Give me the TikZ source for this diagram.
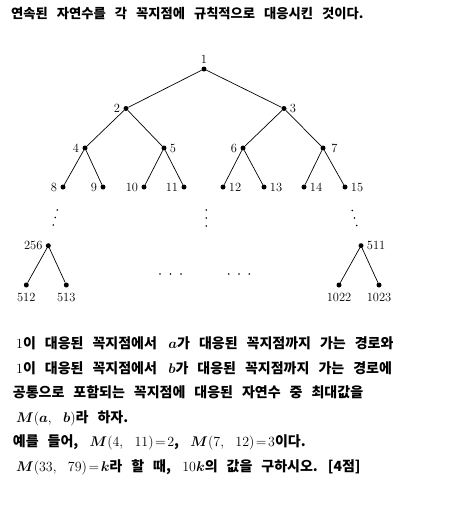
\RequirePackage{fix-cm}
\documentclass[tikz,border=0pt]{standalone}
\usepackage{fontspec}
\usepackage{bm}
\newfontfamily\krfont{Noto Sans CJK KR}
\usetikzlibrary{positioning}

\begin{document}
\begin{tikzpicture}[x=1pt,y=-1pt,on grid,
	dot/.style={circle,fill,inner sep=0pt,minimum size=5pt},
	every label/.style={font=\fontsize{12.5}{14}\selectfont,inner sep=1.5pt},
	label distance=1.5pt,
	ttl/.style={anchor=base west,inner sep=0pt,font={\krfont\bfseries\fontsize{13.3}{16}\selectfont\spaceskip=9pt}},
	txt/.style={anchor=base west,inner sep=0pt,font={\krfont\bfseries\fontsize{14}{16}\selectfont\spaceskip=9pt}},
	every edge/.style={draw,line width=0.7pt}]
	\useasboundingbox (0,0) rectangle (468,520);
	\node[ttl] (title) at (11,18.5) {연속된 자연수를 각 꼭지점에 규칙적으로 대응시킨 것이다.};
	\node[dot,label=above:1] (n1) at (204,69) {};
	\node[dot,label=left:2] (n2) [below left=39.5pt and 78pt of n1] {};
	\node[dot,label=right:3] (n3) [below right=39.5pt and 80pt of n1] {};
	\node[dot,label=left:4] (n4) [below left=39.5pt and 41pt of n2] {};
	\node[dot,label=right:5] (n5) [below right=39.5pt and 38pt of n2] {};
	\node[dot,label=left:6] (n6) [below left=39.5pt and 41pt of n3] {};
	\node[dot,label={[label distance=4pt]right:7}] (n7) [below right=39.5pt and 39pt of n3] {};
	\node[dot,label=left:8] (n8) [below left=39pt and 22pt of n4] {};
	\node[dot,label=left:9] (n9) [below right=39pt and 18pt of n4] {};
	\node[dot,label=left:10] (n10) [below left=39pt and 20pt of n5] {};
	\node[dot,label=left:11] (n11) [below right=39pt and 20pt of n5] {};
	\node[dot,label=right:12] (n12) [below left=39pt and 20pt of n6] {};
	\node[dot,label=right:13] (n13) [below right=39pt and 21pt of n6] {};
	\node[dot,label=right:14] (n14) [below left=39pt and 19pt of n7] {};
	\node[dot,label=right:15] (n15) [below right=39pt and 22pt of n7] {};
	\node[dot,label=left:256] (n256) at (48.3,245.7) {};
	\node[dot,label={[label distance=4pt]below:512}] (n512) [below left=39.3pt and 22pt of n256] {};
	\node[dot,label={[label distance=4pt]below:513}] (n513) [below right=39.3pt and 18pt of n256] {};
	\node[dot,label=right:511] (n511) at (361,245.7) {};
	\node[dot,label={[label distance=4pt]below:1022}] (n1022) [below left=39.3pt and 22pt of n511] {};
	\node[dot,label={[label distance=4pt]below:1023}] (n1023) [below right=39.3pt and 18pt of n511] {};
	\path
	(n1) edge (n2) edge (n3)
	(n2) edge (n4) edge (n5)
	(n3) edge (n6) edge (n7)
	(n4) edge (n8) edge (n9)
	(n5) edge (n10) edge (n11)
	(n6) edge (n12) edge (n13)
	(n7) edge (n14) edge (n15)
	(n256) edge (n512) edge (n513)
	(n511) edge (n1022) edge (n1023);
	% omitted levels
	\foreach \p in {(57.3,210),(55.3,217.5),(53.3,225),(206.3,210),(206.3,218),(206.3,226),(352.3,210.5),(354.5,218),(356.7,225.5)}
		\fill \p circle (0.9);
	\foreach \x in {160,170.5,181,228.7,239,249.3}
		\fill (\x,274) circle (0.9);
	% question text
	\node[txt] (l1) at (16,348) {$1$이 대응된 꼭지점에서 \,$\bm{a}$가 대응된 꼭지점까지 가는 경로와};
	\node[txt] (l2) at (16,373) {$1$이 대응된 꼭지점에서 \,$\bm{b}$가 대응된 꼭지점까지 가는 경로에};
	\node[txt] (l3) at (12.7,397) {공통으로 포함되는 꼭지점에 대응된 자연수 중 최대값을};
	\node[txt] (l4) at (16,422) {$\bm{M}(\bm{a},\ \bm{b})$라 하자.};
	\node[txt] (l5) at (12.7,446) {예를 들어, \,$\bm{M}(4,\ 11)\!=\!2$, \,$\bm{M}(7,\ 12)\!=\!3$이다.};
	\node[txt] (l6) at (16,471) {$\bm{M}(33,\ 79)\!=\!\bm{k}$라 할 때, \,$10\bm{k}$의 값을 구하시오. [4점]};
\end{tikzpicture}
\end{document}
